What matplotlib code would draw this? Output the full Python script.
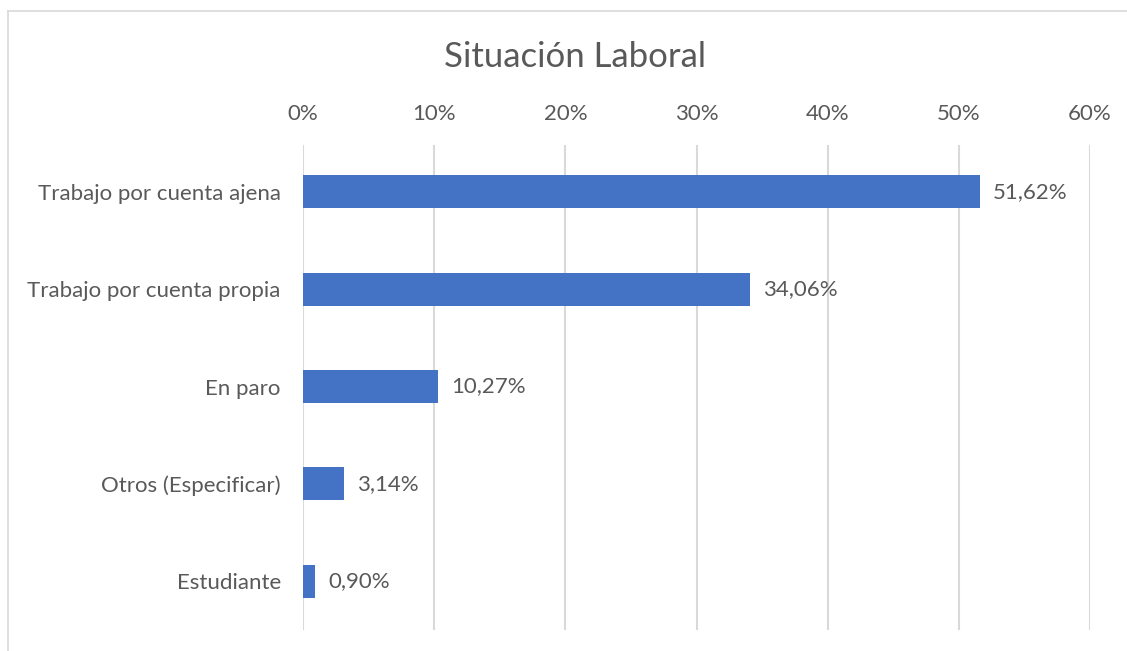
import matplotlib.pyplot as plt
from matplotlib.lines import Line2D

categorias = ['Trabajo por cuenta ajena', 'Trabajo por cuenta propia', 'En paro',
              'Otros (Especificar)', 'Estudiante']
valores = [51.62, 34.06, 10.27, 3.14, 0.90]
ticks_x = [0, 10, 20, 30, 40, 50, 60]

plt.rcParams['font.family'] = ['Lato', 'DejaVu Sans']
gris = '#595959'

fig = plt.figure(figsize=(11.27, 6.51), dpi=100)
ax = fig.add_axes([0.2689, 0.0323, 0.9672 - 0.2689, 0.7773 - 0.0323])

pos = range(len(categorias))
ax.barh(pos, valores, height=0.34, color='#4472C4', zorder=3)

for i, v in enumerate(valores):
    ax.text(v + 1.0, i, f'{v:.2f}%'.replace('.', ','), va='center', ha='left',
            fontsize=16, color=gris)

ax.set_xlim(0, 60)
ax.set_ylim(4.5, -0.48)
ax.set_xticks(ticks_x)
ax.set_xticklabels([f'{t}%' for t in ticks_x])
ax.xaxis.tick_top()
ax.set_yticks(list(pos))
ax.set_yticklabels(categorias)
ax.tick_params(axis='both', length=0, labelsize=16, labelcolor=gris)
ax.tick_params(axis='x', pad=15)
ax.tick_params(axis='y', pad=16)

ax.grid(axis='x', color='#D9D9D9', linewidth=1.5, zorder=0)
for s in ax.spines.values():
    s.set_visible(False)

fig.text(575 / 1127, 1 - 57 / 651, 'Situación Laboral', fontsize=25, color=gris,
         ha='center', va='center')

# marco del gráfico
fig.add_artist(Line2D([8 / 1127, 8 / 1127], [0, 1 - 11 / 651], color='#D9D9D9', lw=1.2))
fig.add_artist(Line2D([8 / 1127, 1], [1 - 11 / 651, 1 - 11 / 651], color='#D9D9D9', lw=1.2))

fig.savefig('out.png', dpi=100)
